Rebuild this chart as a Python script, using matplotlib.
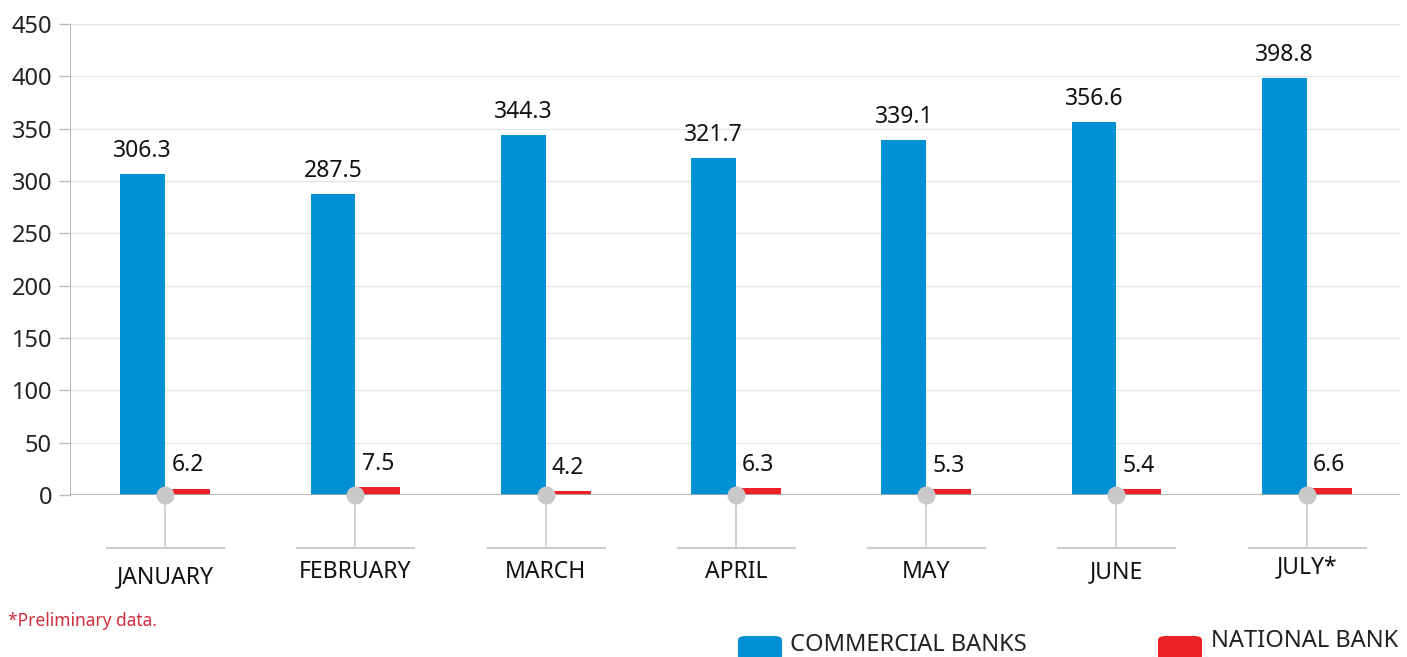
import matplotlib
matplotlib.use("Agg")
import matplotlib.pyplot as plt
import matplotlib.transforms as mtransforms
from matplotlib.patches import FancyBboxPatch
import numpy as np

months = ["JANUARY", "FEBRUARY", "MARCH", "APRIL", "MAY", "JUNE", "JULY*"]
commercial = [306.3, 287.5, 344.3, 321.7, 339.1, 356.6, 398.8]
national = [6.2, 7.5, 4.2, 6.3, 5.3, 5.4, 6.6]
yticks = [0, 50, 100, 150, 200, 250, 300, 350, 400, 450]

BLUE = "#0091d5"
RED = "#ee2129"
FONT = "Noto Sans"
plt.rcParams['font.family'] = [FONT, 'DejaVu Sans']

W, H = 1407, 657
fig = plt.figure(figsize=(W / 100, H / 100), dpi=100)
left, right, top, bottom = 70, 1400, 24, 495
ax = fig.add_axes([left / W, 1 - bottom / H, (right - left) / W, (bottom - top) / H])

x = np.arange(len(months))
bw = 0.236
ax.bar(x - bw / 2, commercial, width=bw, color=BLUE, zorder=3)
ax.bar(x + bw / 2, national, width=bw, color=RED, zorder=3)

ax.set_xlim(-0.5, 6.49)
ax.set_ylim(0, 450)
ax.set_yticks(yticks)
ax.set_yticklabels([str(v) for v in yticks], fontsize=17, color="#222222")
ax.tick_params(axis='y', length=8, width=1, color="#bbbbbb", pad=5)
ax.set_xticks([])
for s in ["top", "right", "bottom"]:
    ax.spines[s].set_visible(False)
ax.spines["left"].set_color("#bbbbbb")
ax.grid(axis='y', color="#e6e6e6", linewidth=1, zorder=0)
ax.axhline(0, color="#aaaaaa", linewidth=1.2, zorder=4)

blend = mtransforms.blended_transform_factory(ax.transData, fig.transFigure)
label_px = [577, 572, 572, 572, 572, 572, 567]
for i in range(len(months)):
    ax.text(x[i] - bw / 2, commercial[i] + 22, f"{commercial[i]:.1f}", ha="center",
            va="center", fontsize=16.5, color="#111111")
    ax.text(x[i] + bw / 2, national[i] + 22, f"{national[i]:.1f}", ha="center",
            va="center", fontsize=16.5, color="#111111")
    ax.plot([x[i], x[i]], [0, -0.1125], transform=ax.get_xaxis_transform(),
            color="#cccccc", lw=1.2, clip_on=False, zorder=2)
    ax.plot([x[i] - 0.305, x[i] + 0.31], [-0.1125, -0.1125], transform=ax.get_xaxis_transform(),
            color="#cccccc", lw=1.5, clip_on=False, zorder=2)
    ax.plot([x[i]], [0], marker="o", markersize=13, color="#c8c8c8", clip_on=False, zorder=6,
            markeredgewidth=0)
    fig.text(x[i], 1 - label_px[i] / H, months[i], ha="center", va="center", fontsize=16.5,
             color="#111111", transform=blend)

fig.text(8 / W, 1 - 621 / H, "*Preliminary data.", fontsize=12.5, color="#d0303c",
         ha="left", va="center")

def legend_item(x0, y0, w, h, color, label, tx, ty):
    p = FancyBboxPatch((x0 / W, 1 - (y0 + h) / H), w / W, h / H,
                       boxstyle="round,pad=0,rounding_size=0.006", transform=fig.transFigure,
                       facecolor=color, edgecolor="none")
    fig.patches.append(p)
    fig.text(tx / W, 1 - ty / H, label, fontsize=17, color="#222222", ha="left",
             va="center", fontweight="light")

legend_item(738, 636, 44, 24, BLUE, "COMMERCIAL BANKS", 790, 645)
legend_item(1158, 636, 44, 24, RED, "NATIONAL BANK", 1211, 641)

fig.savefig("out.png", dpi=100)
